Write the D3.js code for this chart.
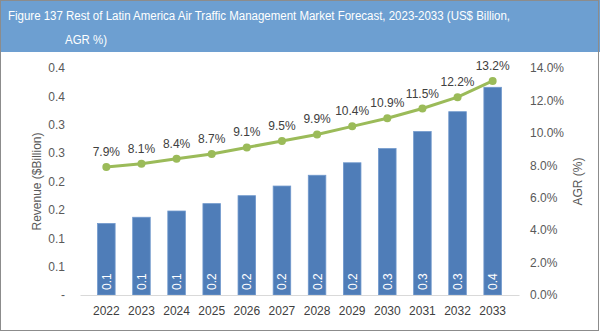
<!DOCTYPE html>
<html>
<head>
<meta charset="utf-8">
<script src="https://cdn.jsdelivr.net/npm/d3@7"></script>
<style>
  body { margin: 0; background: #fff; }
  svg { font-family: "Liberation Sans", Arial, sans-serif; }
</style>
</head>
<body>
<div id="chart"></div>
<script>
// data
var years = ["2022","2023","2024","2025","2026","2027","2028","2029","2030","2031","2032","2033"];
var revenue = [0.126, 0.137, 0.148, 0.161, 0.175, 0.192, 0.211, 0.233, 0.258, 0.288, 0.323, 0.366];
var agr = [7.9, 8.1, 8.4, 8.7, 9.1, 9.5, 9.9, 10.4, 10.9, 11.5, 12.2, 13.2];
var leftTicks = [0, 0.05, 0.1, 0.15, 0.2, 0.25, 0.3, 0.35, 0.4];
var rightTicks = [0, 2, 4, 6, 8, 10, 12, 14];

var W = 600, H = 332;
var margin = {top: 68, right: 81, bottom: 37, left: 80},
    width = W - margin.left - margin.right,
    height = H - margin.top - margin.bottom;

// excel style rounding (half up) to one decimal
function fmt1(v) { return (Math.round(v * 10 + 1e-9) / 10).toFixed(1); }

var svg = d3.select("#chart").append("svg")
    .attr("width", W)
    .attr("height", H);

// title bar
svg.append("rect")
    .attr("x", 0).attr("y", 0)
    .attr("width", W).attr("height", 52)
    .style("fill", "#6d9fd1");
svg.append("text")
    .attr("x", 8).attr("y", 20)
    .attr("textLength", 502)
    .attr("lengthAdjust", "spacingAndGlyphs")
    .style("fill", "#fff").style("font-size", "12.5px")
    .text("Figure 137 Rest of Latin America Air Traffic Management Market Forecast, 2023-2033 (US$ Billion,");
svg.append("text")
    .attr("x", 65).attr("y", 44)
    .attr("textLength", 42)
    .attr("lengthAdjust", "spacingAndGlyphs")
    .style("fill", "#fff").style("font-size", "12.5px")
    .text("AGR %)");

// outer frame
svg.append("rect")
    .attr("x", 0.5).attr("y", 0.5)
    .attr("width", W - 2).attr("height", H - 2)
    .style("fill", "none").style("stroke", "#8c8c8c");

var g = svg.append("g")
    .attr("transform", "translate(" + margin.left + "," + margin.top + ")");

var x = d3.scaleBand()
    .domain(years)
    .range([0, width])
    .padding(0.5);
var y = d3.scaleLinear()
    .domain([0, 0.4])
    .range([height, 0]);
var y2 = d3.scaleLinear()
    .domain([0, 14])
    .range([height, 0]);

// bars
g.selectAll(".bar")
    .data(years)
  .enter().append("rect")
    .attr("class", "bar")
    .attr("x", function(d) { return x(d); })
    .attr("width", x.bandwidth())
    .attr("y", function(d, i) { return y(revenue[i]); })
    .attr("height", function(d, i) { return height - y(revenue[i]); })
    .style("fill", "#4f7db8")
    .style("stroke", "#7098cc")
    .style("stroke-width", 0.8);

// bar value labels (rotated)
g.selectAll(".blabel")
    .data(years)
  .enter().append("text")
    .attr("class", "blabel")
    .attr("transform", function(d) {
      return "translate(" + (x(d) + x.bandwidth() / 2 + 4.5) + "," + (height - 5) + ") rotate(-90)";
    })
    .style("fill", "#fff")
    .style("font-size", "12px")
    .text(function(d, i) { return fmt1(revenue[i]); });

// left axis
var yAxis = g.append("g")
    .call(d3.axisLeft(y).tickValues(leftTicks).tickSize(0).tickPadding(15)
      .tickFormat(function(d) { return d === 0 ? "-" : fmt1(d); }));
yAxis.select(".domain").remove();
yAxis.selectAll("text").style("font-size", "12px").style("fill", "#595959")
    .style("font-family", "Liberation Sans, Arial, sans-serif");

// right axis
var yAxis2 = g.append("g")
    .attr("transform", "translate(" + width + ",0)")
    .call(d3.axisRight(y2).tickValues(rightTicks).tickSize(0).tickPadding(11)
      .tickFormat(function(d) { return d3.format(".1f")(d) + "%"; }));
yAxis2.select(".domain").remove();
yAxis2.selectAll("text").style("font-size", "12px").style("fill", "#595959")
    .style("font-family", "Liberation Sans, Arial, sans-serif");

// x axis
var xAxis = g.append("g")
    .attr("transform", "translate(0," + height + ")")
    .call(d3.axisBottom(x).tickSize(0).tickPadding(11).tickSizeOuter(0));
xAxis.select(".domain").style("stroke", "#d9d9d9");
xAxis.selectAll("text").style("font-size", "12px").style("fill", "#404040")
    .style("font-family", "Liberation Sans, Arial, sans-serif");

// AGR line
var line = d3.line()
    .x(function(d, i) { return x(years[i]) + x.bandwidth() / 2; })
    .y(function(d) { return y2(d); });
g.append("path")
    .datum(agr)
    .attr("d", line)
    .style("fill", "none")
    .style("stroke", "#9bbb59")
    .style("stroke-width", 3);
g.selectAll(".dot")
    .data(agr)
  .enter().append("circle")
    .attr("cx", function(d, i) { return x(years[i]) + x.bandwidth() / 2; })
    .attr("cy", function(d) { return y2(d); })
    .attr("r", 4)
    .style("fill", "#9bbb59");
g.selectAll(".llabel")
    .data(agr)
  .enter().append("text")
    .attr("x", function(d, i) { return x(years[i]) + x.bandwidth() / 2; })
    .attr("y", function(d) { return y2(d) - 11; })
    .attr("text-anchor", "middle")
    .style("font-size", "12px")
    .style("fill", "#404040")
    .text(function(d) { return d3.format(".1f")(d) + "%"; });

// axis titles
svg.append("text")
    .attr("transform", "translate(41," + (margin.top + height / 2) + ") rotate(-90)")
    .attr("text-anchor", "middle")
    .style("font-size", "12px").style("fill", "#595959")
    .text("Revenue ($Billion)");
svg.append("text")
    .attr("transform", "translate(582," + (margin.top + height / 2) + ") rotate(-90)")
    .attr("text-anchor", "middle")
    .style("font-size", "12px").style("fill", "#595959")
    .text("AGR (%)");
</script>
</body>
</html>
